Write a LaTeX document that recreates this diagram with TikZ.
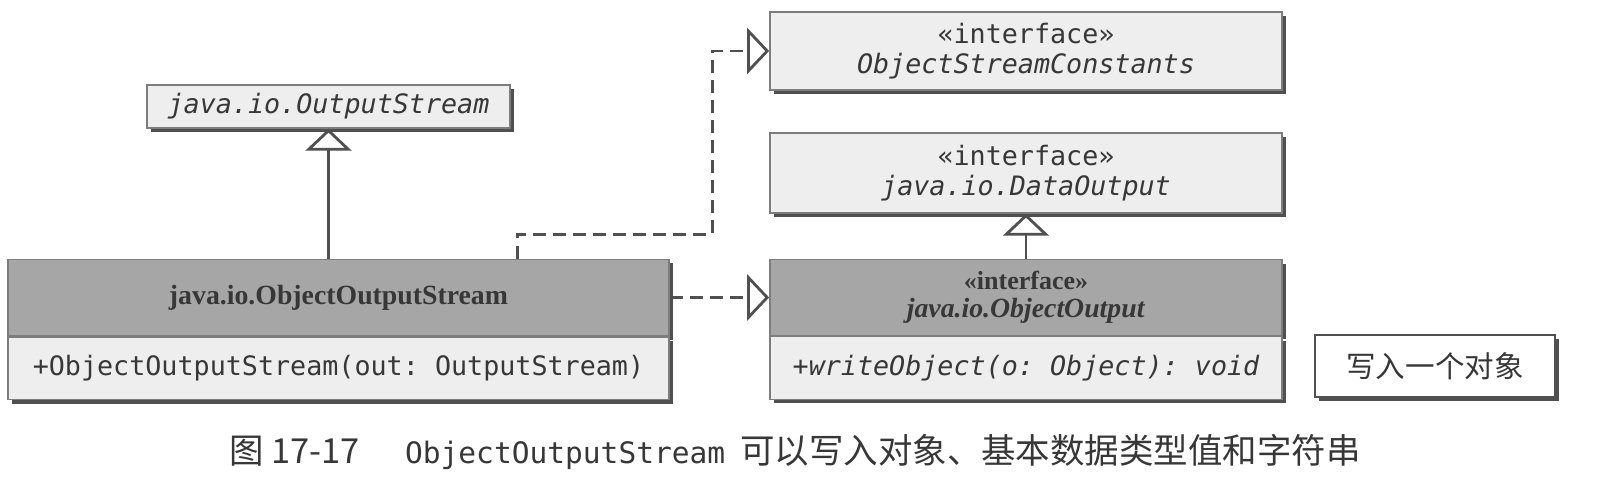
\documentclass[tikz,border=0pt]{standalone}
\usepackage{fontspec}
\setmainfont{Liberation Serif}
\setmonofont{DejaVu Sans Mono}
\newfontfamily\cjk{Noto Sans CJK SC}
\usepackage{tikz}
\usepackage{xcolor}
\usetikzlibrary{arrows.meta, positioning, calc}
\definecolor{cHead}{RGB}{166,166,166}
\definecolor{cBody}{RGB}{238,238,238}
\definecolor{cShadow}{RGB}{80,80,80}
\definecolor{cEdge}{RGB}{125,125,125}
\definecolor{cInk}{RGB}{55,55,55}
\tikzset{
	classbox/.style={rectangle, draw=cEdge, line width=0.4pt, inner sep=0pt, align=center, text=cInk,
		preaction={draw=none, fill=cShadow, transform canvas={shift={(0.04cm,-0.04cm)}}}},
	headbox/.style ={classbox, fill=cHead, font=\fontsize{7.9}{9}\selectfont\bfseries},
	bodybox/.style ={classbox, fill=cBody, font=\fontsize{7.6}{8.6}\selectfont\ttfamily},
	notebox/.style ={classbox, fill=white, draw=cShadow, font=\fontsize{8.4}{9}\selectfont\cjk},
	% uml connectors
	genline/.style ={draw=cShadow, line width=0.8pt, -{Triangle[length=0.22cm, width=0.46cm, fill=white]}},
	realline/.style={genline, dash pattern=on 0.13cm off 0.07cm},
}

\begin{document}
\begin{tikzpicture}[x=0.01cm, y=-0.01cm]
	\useasboundingbox (0,0) rectangle (1602,483);
	% left side: the class and its superclass
	\node[bodybox, minimum width=3.63cm, minimum height=0.43cm] (ostream) at (328.5,106.5) {\itshape java.io.OutputStream};
	\node[headbox, minimum width=6.61cm, minimum height=0.765cm] (oosHead) at (338.5,297.5) {java.io.ObjectOutputStream};
	\node[bodybox, minimum width=6.61cm, minimum height=0.625cm, below=0pt of oosHead] (oosBody) {+ObjectOutputStream(out: OutputStream)};
	% right side: interfaces
	\node[bodybox, minimum width=5.12cm, minimum height=0.78cm] (consts) at (1026,51) {«interface»\\\textit{ObjectStreamConstants}};
	\node[bodybox, minimum width=5.12cm, minimum height=0.80cm] (dout) at (1026,173) {«interface»\\\textit{java.io.DataOutput}};
	\node[headbox, minimum width=5.12cm, minimum height=0.755cm] (ooutHead) at (1026,297.5) {{\fontsize{7.4}{8}\selectfont «interface»}\\[-1pt]\textit{java.io.ObjectOutput}};
	\node[bodybox, minimum width=5.12cm, minimum height=0.625cm, below=0pt of ooutHead] (ooutBody) {\itshape +writeObject(o: Object): void};
	\node[notebox, minimum width=2.4cm, minimum height=0.62cm] (note) at (1435,366) {写入一个对象};

	\draw[genline] (ostream.south |- oosHead.north) -- (ostream.south);
	\draw[genline] (ooutHead.north) -- (dout.south);
	\draw[realline] ([xshift=1.785cm]oosHead.north) -- ++(0,-24) -| ([xshift=-0.57cm]consts.west) -- (consts.west);
	\draw[realline] (oosHead.east) -- (ooutHead.west);

	\node[text=cInk, font=\fontsize{9.8}{11}\selectfont] (caption) at (795,452)
		{{\cjk 图 17-17}\hspace{0.45cm}{\fontsize{8.4}{10}\selectfont\ttfamily ObjectOutputStream}\hspace{0.15cm}{\cjk 可以写入对象、基本数据类型值和字符串}};
\end{tikzpicture}
\end{document}
